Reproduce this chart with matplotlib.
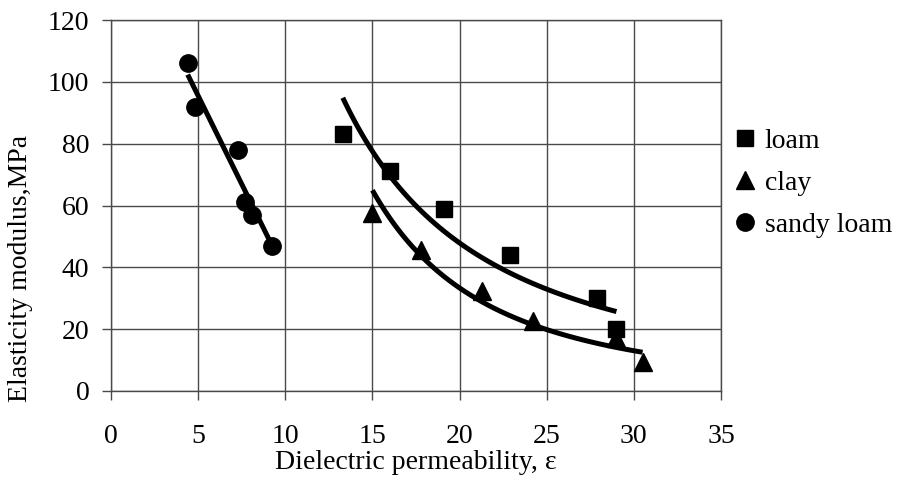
import numpy as np
import matplotlib
matplotlib.use("Agg")
import matplotlib.pyplot as plt

plt.rcParams['font.family'] = ['Liberation Serif', 'DejaVu Serif']

# datos
loam_x = [13.3, 16.0, 19.1, 22.9, 27.9, 29.0]
loam_y = [83, 71, 59, 44, 30, 20]
clay_x = [15.0, 17.8, 21.3, 24.2, 29.0, 30.5]
clay_y = [57.5, 45.5, 32.5, 22.5, 17, 9.5]
sandy_x = [4.4, 4.8, 7.3, 7.7, 8.1, 9.25]
sandy_y = [106, 92, 78, 61, 57, 47]

fig = plt.figure(figsize=(9.02, 4.82), dpi=100)
ax = fig.add_axes([111/902, 1-391/482, (721-111)/902, (391-20)/482])

# marcadores
ax.plot(loam_x, loam_y, 's', color='black', ms=11, label='loam', zorder=3)
ax.plot(clay_x, clay_y, '^', color='black', ms=13, label='clay', zorder=3)
ax.plot(sandy_x, sandy_y, 'o', color='black', ms=12.5, label='sandy loam', zorder=3)

# lineas de tendencia (potencia para loam y clay, lineal para sandy loam)
def power_fit(x, y):
    b, lna = np.polyfit(np.log(x), np.log(y), 1)
    xs = np.linspace(min(x), max(x), 100)
    return xs, np.exp(lna) * xs ** b

for xx, yy in [(loam_x, loam_y), (clay_x, clay_y)]:
    xs, ys = power_fit(xx, yy)
    ax.plot(xs, ys, color='black', lw=3.6, solid_capstyle='butt', zorder=2)

k, c = np.polyfit(sandy_x, sandy_y, 1)
xs = np.array([min(sandy_x), max(sandy_x)])
ax.plot(xs, k * xs + c, color='black', lw=3.6, solid_capstyle='butt', zorder=2)

ax.set_xlim(0, 35)
ax.set_ylim(0, 120)
ax.set_xticks(range(0, 36, 5))
ax.set_yticks(range(0, 121, 20))
ax.grid(True, color='#4a4a4a', lw=1)
for s in ax.spines.values():
    s.set_color('#4a4a4a')
    s.set_linewidth(1)
ax.tick_params(direction='out', length=6.5, width=1, color='#4a4a4a', labelsize=20)
ax.tick_params(axis='x', pad=17)
ax.tick_params(axis='y', pad=9)

ax.set_xlabel('Dielectric permeability, ε', fontsize=20)
ax.set_ylabel('Elasticity modulus,MPa', fontsize=20)
ax.xaxis.set_label_coords(0.5, -0.159)
ax.yaxis.set_label_coords(-0.128, 0.33)

fig.legend(loc='center left', bbox_to_anchor=(737/902, 1-183/482), frameon=False,
           fontsize=20, handlelength=0.6, handletextpad=0.4, labelspacing=0.6,
           borderpad=0, borderaxespad=0)

fig.savefig('out.png', dpi=100)
